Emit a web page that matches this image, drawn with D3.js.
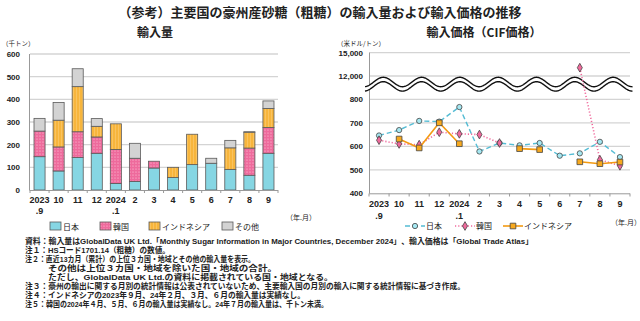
<!DOCTYPE html>
<html>
<head>
<meta charset="utf-8">
<script src="https://cdn.jsdelivr.net/npm/d3@7"></script>
<style>
  body { margin: 0; background: #fff; }
  text { font-family: "Liberation Sans", Arial, "Noto Sans CJK JP", sans-serif; fill: #222; }
  .jp { font-family: "Noto Sans CJK JP", sans-serif; }
  .note { font-family: "Liberation Sans", "Noto Sans CJK JP", sans-serif; }
</style>
</head>
<body>
<script>
  // months on both x axes (top line / second line of each tick)
  const tickTop = ["2023", "10", "11", "12", "2024", "2", "3", "4", "5", "6", "7", "8", "9"];
  const tickSub = [".9", "", "", "", ".1", "", "", "", "", "", "", "", ""];

  // import volume, thousand tonnes
  const volJapan     = [147, 84, 143, 162, 29, 38, 97, 55, 112, 118, 91, 65, 162];
  const volKorea     = [113, 106, 114, 72, 150, 102, 30, 0, 0, 0, 0, 120, 114];
  const volIndonesia = [0, 118, 199, 47, 113, 0, 0, 45, 134, 0, 95, 70, 84];
  const volOther     = [56, 78, 79, 34, 0, 66, 0, 0, 0, 22, 33, 2, 33];
  const volTicks = [0, 100, 200, 300, 400, 500, 600];

  // import price CIF, USD per tonne (null = no imports that month)
  const priceJapan     = [646, 669, 708, 705, 767, 578, 614, 604, 614, 560, 570, 619, 554];
  const priceKorea     = [626, 610, 607, 660, 653, 650, 614, null, null, null, 13070, 543, 517];
  const priceIndonesia = [null, 631, 593, 700, 611, null, null, 590, 586, null, 534, 526, 533];
  const priceTicks = [400, 500, 600, 700, 800, 12000, 15000];

  const seriesNames = ["日本", "韓国", "インドネシア", "その他"];

  const notes = [
    "資料：輸入量はGlobalData UK Ltd.「Monthly Sugar Information in Major Countries, December 2024」、輸入価格は「Global Trade Atlas」",
    "注１：HSコード1701.14（粗糖）の数値。",
    "注２：直近13カ月（累計）の上位３カ国・地域とその他の輸入量を表示。",
    "その他は上位３カ国・地域を除いた国・地域の合計。",
    "ただし、GlobalData UK Ltd.の資料に掲載されている国・地域となる。",
    "注３：豪州の輸出に関する月別の統計情報は公表されていないため、主要輸入国の月別の輸入に関する統計情報に基づき作成。",
    "注４：インドネシアの2023年９月、24年２月、３月、６月の輸入量は実績なし。",
    "注５：韓国の2024年４月、５月、６月の輸入量は実績なし。24年７月の輸入量は、千トン未満。"
  ];
  const noteX = [25, 25, 25, 48, 48, 25, 25, 25];
  const noteW = [508, 145, 230, 229, 285, 440, 280, 303];

  const width = 640, height = 321;
  const gridColor = "#d4d4d4", axisColor = "#999";

  const svg = d3.select("body").append("svg")
      .attr("width", width)
      .attr("height", height);

  // fill patterns for the stacked bars
  const defs = svg.append("defs");
  const dots = defs.append("pattern").attr("id", "dots")
      .attr("width", 3).attr("height", 3).attr("patternUnits", "userSpaceOnUse");
  dots.append("rect").attr("width", 3).attr("height", 3).attr("fill", "#ee6a9c");
  dots.append("circle").attr("cx", 1).attr("cy", 1).attr("r", 0.6).attr("fill", "#ffd0e0");
  const stripes = defs.append("pattern").attr("id", "stripes")
      .attr("width", 3).attr("height", 3).attr("patternUnits", "userSpaceOnUse");
  stripes.append("rect").attr("width", 3).attr("height", 3).attr("fill", "#f7b53c");
  stripes.append("rect").attr("x", 1).attr("width", 0.8).attr("height", 3).attr("fill", "#fbc768");

  const barFills = ["#86d6e3", "url(#dots)", "url(#stripes)", "#d3d3d3"];

  // titles
  svg.append("text").attr("class", "jp")
      .attr("x", 320).attr("y", 17).attr("text-anchor", "middle")
      .attr("font-size", 13).attr("font-weight", "bold")
      .text("（参考）主要国の豪州産砂糖（粗糖）の輸入量および輸入価格の推移");
  svg.append("text").attr("class", "jp")
      .attr("x", 155).attr("y", 37).attr("text-anchor", "middle")
      .attr("font-size", 12).attr("font-weight", "bold").text("輸入量");
  svg.append("text").attr("class", "jp")
      .attr("x", 484).attr("y", 37).attr("text-anchor", "middle")
      .attr("font-size", 12).attr("font-weight", "bold").text("輸入価格（CIF価格）");

  // ---------- left: stacked bars ----------
  const x1 = d3.scaleBand().domain(d3.range(13)).range([30, 278])
      .paddingInner(0.42).paddingOuter(0.21);
  const y1 = d3.scaleLinear().domain([0, 600]).range([190, 54]);

  const left = svg.append("g");
  left.append("g")
      .selectAll("line").data(volTicks.slice(1)).join("line")
      .attr("x1", 30).attr("x2", 278)
      .attr("y1", d => y1(d)).attr("y2", d => y1(d))
      .attr("stroke", gridColor).attr("stroke-width", 1.3);

  const rows = d3.range(13).map(i => ({
    i, japan: volJapan[i], korea: volKorea[i], indonesia: volIndonesia[i], other: volOther[i]
  }));
  const stack = d3.stack().keys(["japan", "korea", "indonesia", "other"])(rows);

  left.append("g").selectAll("g").data(stack).join("g")
      .attr("fill", (d, k) => barFills[k])
    .selectAll("rect").data(d => d.filter(s => s[1] > s[0])).join("rect")
      .attr("x", d => x1(d.data.i))
      .attr("width", x1.bandwidth())
      .attr("y", d => y1(d[1]))
      .attr("height", d => y1(d[0]) - y1(d[1]))
      .attr("stroke", "#5a5a5a").attr("stroke-width", 0.8);

  left.append("line").attr("x1", 29.5).attr("x2", 29.5).attr("y1", 54).attr("y2", 190)
      .attr("stroke", axisColor);
  left.append("line").attr("x1", 29.5).attr("x2", 278).attr("y1", 190.5).attr("y2", 190.5)
      .attr("stroke", axisColor);
  left.append("g").selectAll("line").data(d3.range(14)).join("line")
      .attr("x1", d => 30 + d * x1.step()).attr("x2", d => 30 + d * x1.step())
      .attr("y1", 190).attr("y2", 193).attr("stroke", axisColor);

  left.append("g").selectAll("text").data(volTicks).join("text")
      .attr("x", 20).attr("y", d => y1(d) + 3)
      .attr("text-anchor", "end").attr("font-size", 8).attr("font-weight", "bold")
      .text(d => d);

  left.append("g").selectAll("text").data(tickTop).join("text")
      .attr("x", (d, i) => x1(i) + x1.bandwidth() / 2).attr("y", 203)
      .attr("text-anchor", "middle").attr("font-size", 9).attr("font-weight", "bold")
      .text(d => d);
  left.append("g").selectAll("text").data(tickSub).join("text")
      .attr("x", (d, i) => x1(i) + x1.bandwidth() / 2).attr("y", 213.5)
      .attr("text-anchor", "middle").attr("font-size", 9).attr("font-weight", "bold")
      .text(d => d);

  left.append("text").attr("class", "jp").attr("x", 2).attr("y", 45.5)
      .attr("font-size", 6.5).text("（千トン）");
  left.append("text").attr("class", "jp").attr("x", 286).attr("y", 219.5)
      .attr("font-size", 7).text("（年.月）");

  // bar legend
  const legX = [50, 100, 149, 222];
  const leg1 = left.append("g").selectAll("g").data(seriesNames).join("g")
      .attr("transform", (d, k) => `translate(${legX[k]},222)`);
  leg1.append("rect").attr("width", 11).attr("height", 8)
      .attr("fill", (d, k) => barFills[k]).attr("stroke", "#5a5a5a").attr("stroke-width", 0.8);
  leg1.append("text").attr("class", "jp").attr("x", 13).attr("y", 7.5)
      .attr("font-size", 8).text(d => d);

  // ---------- right: price lines with broken axis ----------
  const x2 = d3.scalePoint().domain(d3.range(13)).range([369, 630]).padding(0.5);
  const y2 = d3.scaleLinear()
      .domain([400, 800, 12000, 15000])
      .range([193.3, 99.3, 76, 52.7]);

  const right = svg.append("g");
  right.append("g")
      .selectAll("line").data(priceTicks.slice(1)).join("line")
      .attr("x1", 369).attr("x2", 630)
      .attr("y1", d => y2(d)).attr("y2", d => y2(d))
      .attr("stroke", gridColor).attr("stroke-width", 1.3);

  right.append("line").attr("x1", 369.5).attr("x2", 369.5).attr("y1", 52.7).attr("y2", 193.3)
      .attr("stroke", axisColor);
  right.append("line").attr("x1", 369).attr("x2", 630).attr("y1", 193.8).attr("y2", 193.8)
      .attr("stroke", axisColor);
  right.append("g").selectAll("line").data(d3.range(14)).join("line")
      .attr("x1", d => 369 + d * x2.step()).attr("x2", d => 369 + d * x2.step())
      .attr("y1", 193.5).attr("y2", 196.5).attr("stroke", axisColor);

  right.append("g").selectAll("text").data(priceTicks).join("text")
      .attr("x", 363).attr("y", d => y2(d) + 3)
      .attr("text-anchor", "end").attr("font-size", 8).attr("font-weight", "bold")
      .text(d3.format(","));

  // axis break: white band framed by two wavy lines
  const wave = (xx, off) => 82 + off - 4.7 * Math.cos(2 * Math.PI * (xx - 383.3) / 38.3);
  const xs = d3.range(365, 633, 0.5);
  const area = d3.area().x(d => d).y0(d => wave(d, 0)).y1(d => wave(d, 4.4));
  right.append("path").datum(xs).attr("d", area).attr("fill", "#fff");
  const wline = off => d3.line().x(d => d).y(d => wave(d, off));
  [0, 4.4].forEach(off => right.append("path").datum(xs).attr("d", wline(off))
      .attr("fill", "none").attr("stroke", "#111").attr("stroke-width", 1.4));

  const lineSeries = [
    { name: "日本", values: priceJapan, color: "#55bcd4", dash: "5,3", width: 1.4, marker: "circle", fill: "#a6e8f2" },
    { name: "韓国", values: priceKorea, color: "#f06a9c", dash: "1.2,2", width: 1.6, marker: "diamond", fill: "#f06a9c" },
    { name: "インドネシア", values: priceIndonesia, color: "#f39a12", dash: null, width: 1.6, marker: "square", fill: "#f7a91e" }
  ];
  const sym = { circle: d3.symbolCircle, diamond: d3.symbolDiamond, square: d3.symbolSquare };
  const symSize = { circle: 22, diamond: 22, square: 32 };

  const line = d3.line().defined(d => d.v != null).x(d => x2(d.i)).y(d => y2(d.v));

  lineSeries.forEach(s => {
    const pts = s.values.map((v, i) => ({ i, v }));
    const g = right.append("g");
    g.append("path").datum(pts).attr("d", line)
        .attr("fill", "none").attr("stroke", s.color)
        .attr("stroke-width", s.width).attr("stroke-dasharray", s.dash);
    g.selectAll("path.m").data(pts.filter(d => d.v != null)).join("path")
        .attr("class", "m")
        .attr("transform", d => `translate(${x2(d.i)},${y2(d.v)})`)
        .attr("d", d3.symbol(sym[s.marker], symSize[s.marker]))
        .attr("fill", s.fill).attr("stroke", "#444").attr("stroke-width", 0.8);
  });

  right.append("g").selectAll("text").data(tickTop).join("text")
      .attr("x", (d, i) => x2(i)).attr("y", 206.5)
      .attr("text-anchor", "middle").attr("font-size", 9).attr("font-weight", "bold")
      .text(d => d);
  right.append("g").selectAll("text").data(tickSub).join("text")
      .attr("x", (d, i) => x2(i)).attr("y", 219)
      .attr("text-anchor", "middle").attr("font-size", 9).attr("font-weight", "bold")
      .text(d => d);

  right.append("text").attr("class", "jp").attr("x", 337).attr("y", 45.5)
      .attr("font-size", 6.5).text("（米ドル/トン）");
  right.append("text").attr("class", "jp").attr("x", 611).attr("y", 224.5)
      .attr("font-size", 7).text("（年.月）");

  // line legend
  const leg2X = [405, 455, 503];
  const leg2 = right.append("g").selectAll("g").data(lineSeries).join("g")
      .attr("transform", (d, k) => `translate(${leg2X[k]},226)`);
  leg2.append("line").attr("x1", 0).attr("x2", 20)
      .attr("stroke", d => d.color).attr("stroke-width", d => d.width)
      .attr("stroke-dasharray", d => d.dash);
  leg2.append("path").attr("transform", "translate(10,0)")
      .attr("d", d => d3.symbol(sym[d.marker], symSize[d.marker])())
      .attr("fill", d => d.fill).attr("stroke", "#444").attr("stroke-width", 0.8);
  leg2.append("text").attr("class", "jp").attr("x", 21).attr("y", 3)
      .attr("font-size", 8).text(d => d.name);

  // footnotes
  svg.append("g").selectAll("text").data(notes).join("text")
      .attr("class", "note")
      .attr("x", (d, i) => noteX[i])
      .attr("y", (d, i) => 244 + i * 9.05)
      .attr("font-size", 7.9)
      .attr("font-weight", "bold")
      .attr("textLength", (d, i) => noteW[i])
      .attr("lengthAdjust", "spacingAndGlyphs")
      .text(d => d);
</script>
</body>
</html>
